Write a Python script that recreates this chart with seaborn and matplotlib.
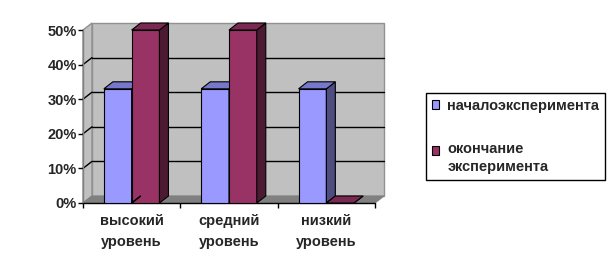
import matplotlib
matplotlib.use("Agg")
import matplotlib.pyplot as plt
import matplotlib.transforms as mtransforms
from matplotlib.patches import Polygon, Rectangle
from matplotlib.colors import to_rgb
import seaborn as sns
import pandas as pd

categories = ["высокий\nуровень", "средний\nуровень", "низкий\nуровень"]
series_names = ["началоэксперимента", "окончание\nэксперимента"]
start_values = [33, 33, 33]
end_values = [50, 50, 0]
y_ticks = [0, 10, 20, 30, 40, 50]
y_tick_labels = ["0%", "10%", "20%", "30%", "40%", "50%"]

front_colors = ["#9999FF", "#993366"]
side_colors = ["#4D4D80", "#4D1A33"]
top_colors = ["#7777CC", "#7A2952"]

sns.set_style("white")
plt.rcParams["font.family"] = ["Liberation Sans", "DejaVu Sans"]
plt.rcParams["font.weight"] = "bold"

df = pd.DataFrame({
    "category": categories * 2,
    "series": [series_names[0]] * 3 + [series_names[1]] * 3,
    "value": start_values + end_values,
})

W, H = 616, 272
fig = plt.figure(figsize=(W / 100, H / 100), dpi=100)
fig.patch.set_facecolor("white")
ax = fig.add_axes([83 / W, 69 / H, 292 / W, 173 / H])
ax.patch.set_alpha(0)

sns.barplot(data=df, x="category", y="value", hue="series",
            palette=front_colors, saturation=1, width=0.571, edgecolor="black",
            linewidth=0.8, ax=ax, legend=True, zorder=5, gap=0)

ax.set_xlim(-0.5, 2.5)
ax.set_ylim(0, 50)

dx, dy = 9, 7
off = mtransforms.ScaledTranslation(dx / 100, dy / 100, fig.dpi_scale_trans)
tback = ax.transData + off
x0, x1 = -0.5, 2.5

# back wall
ax.add_patch(Rectangle((x0, 0), x1 - x0, 50, transform=tback, facecolor="#C0C0C0",
                       edgecolor="#909090", linewidth=1, zorder=0, clip_on=False))
for v in y_ticks[1:-1]:
    ax.plot([x0, x1], [v, v], transform=tback, color="black", lw=1, zorder=1, clip_on=False)

fig.canvas.draw()

def shifted(pts):
    out = []
    for (x, y) in pts:
        out.append(tuple(ax.transData.inverted().transform(tback.transform((x, y)))))
    return out

# side wall
side = [(x0, 0), (x0, 50)] + shifted([(x0, 50), (x0, 0)])
ax.add_patch(Polygon(side, closed=True, facecolor="#C0C0C0", edgecolor="#909090",
                     lw=1, zorder=0.5, clip_on=False))
for v in y_ticks[1:-1]:
    a = shifted([(x0, v)])[0]
    ax.plot([x0, a[0]], [v, a[1]], color="black", lw=1, zorder=1, clip_on=False)

# floor
floor = [(x0, 0), (x1, 0)] + shifted([(x1, 0), (x0, 0)])
ax.add_patch(Polygon(floor, closed=True, facecolor="#808080", edgecolor="#808080",
                     lw=0.8, zorder=2, clip_on=False))

# 3D sides and tops of bars
bars = [p for p in ax.patches if isinstance(p, Rectangle) and p.get_zorder() == 5]
for p in bars:
    fc = to_rgb(p.get_facecolor())
    dists = [sum((a - b) ** 2 for a, b in zip(fc, to_rgb(c))) for c in front_colors]
    idx = dists.index(min(dists))
    x, w, h = p.get_x(), p.get_width(), p.get_height()
    z = 5 + 0.1 * (x + 1)
    p.set_zorder(z)
    sidep = [(x + w, 0), (x + w, h)] + shifted([(x + w, h), (x + w, 0)])
    ax.add_patch(Polygon(sidep, closed=True, facecolor=side_colors[idx], edgecolor="black",
                         lw=0.8, zorder=z + 0.01, clip_on=False))
    topp = [(x, h), (x + w, h)] + shifted([(x + w, h), (x, h)])
    ax.add_patch(Polygon(topp, closed=True, facecolor=top_colors[idx], edgecolor="black",
                         lw=0.8, zorder=z + 0.02, clip_on=False))

# axes lines
for s in ax.spines.values():
    s.set_visible(False)
ax.plot([x0, x0], [0, 50], color="#808080", lw=1, zorder=3, clip_on=False)
ax.plot([x0, x1], [0, 0], color="black", lw=1, zorder=3, clip_on=False)

ax.set_yticks(y_ticks)
ax.set_yticklabels(y_tick_labels, fontsize=10.5, fontweight="bold")
ax.tick_params(axis="y", left=True, length=3.5, width=1, color="black", pad=1)
ax.set_xticks([0, 1, 2])
ax.set_xticklabels(categories, fontsize=10.5, fontweight="bold", linespacing=1.6)
ax.set_xticks([-0.5, 0.5, 1.5, 2.5], minor=True)
ax.tick_params(axis="x", which="major", length=0, pad=8)
ax.tick_params(axis="x", which="minor", bottom=True, length=3.5, width=1, color="black")
ax.set_xlabel("")
ax.set_ylabel("")
ax.grid(False)

handles, labels = ax.get_legend_handles_labels()
if ax.legend_:
    ax.legend_.remove()
leg = fig.legend(handles, labels, loc="upper left", bbox_to_anchor=(426 / W, 1 - 93 / H),
                 frameon=True, fancybox=False, edgecolor="black", framealpha=1,
                 prop={"size": 10.5, "weight": "bold"}, handlelength=0.5, handleheight=0.5,
                 handletextpad=0.55, labelspacing=2.0, borderpad=0.4, borderaxespad=0)
leg.get_frame().set_linewidth(1)
texts = leg.get_texts()
for t in texts:
    t.set_linespacing(1.4)

# align the marker of the two-line entry with its first line
fig.canvas.draw()
r = fig.canvas.get_renderer()
h_items = leg.legend_handles
for hnd, t in zip(h_items, texts):
    nlines = t.get_text().count("\n") + 1
    if nlines > 1:
        ext = t.get_window_extent(r)
        line_px = ext.height / nlines
        shift_pt = (ext.height - line_px) / 2 * 72 / fig.dpi
        hnd.set_y(hnd.get_y() + shift_pt)

fig.savefig("out.png", dpi=100)
